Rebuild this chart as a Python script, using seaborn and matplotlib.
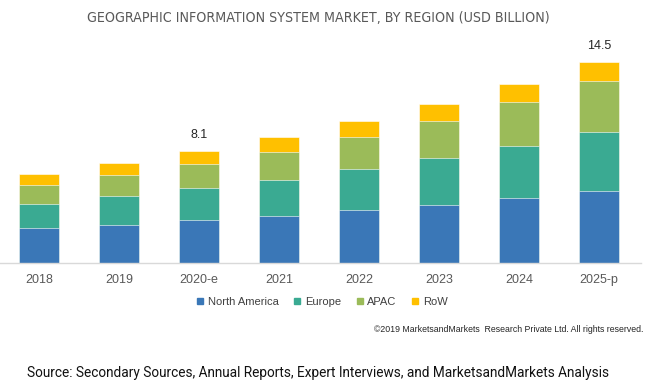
import numpy as np
import pandas as pd
import matplotlib
matplotlib.use("Agg")
import matplotlib.pyplot as plt
from matplotlib.lines import Line2D
import seaborn as sns

sns.set_style("white")
plt.rcParams['font.family'] = ['Liberation Sans', 'DejaVu Sans']

years = ['2018', '2019', '2020-e', '2021', '2022', '2023', '2024', '2025-p']
north_america = [2.51, 2.77, 3.09, 3.42, 3.81, 4.17, 4.67, 5.20]
europe = [1.78, 2.10, 2.36, 2.60, 2.96, 3.40, 3.78, 4.26]
apac = [1.37, 1.52, 1.71, 2.02, 2.36, 2.72, 3.16, 3.66]
row = [0.79, 0.85, 0.94, 1.04, 1.13, 1.21, 1.34, 1.38]
regions = ['North America', 'Europe', 'APAC', 'RoW']
colors = ['#3A77B7', '#3AAA92', '#9BBB59', '#FFC000']
labelled = {'2020-e': '8.1', '2025-p': '14.5'}

df = pd.DataFrame({'year': years, 'North America': north_america,
                   'Europe': europe, 'APAC': apac, 'RoW': row})
cum = df[regions].cumsum(axis=1)
cum['year'] = df['year']

fig = plt.figure(figsize=(6.5, 3.88), dpi=100)
ax = fig.add_axes([0.0, (388 - 263) / 388, 641 / 650, (263 - 40) / 388])

# stacked look: draw cumulative totals from the top segment down
for reg, col in zip(regions[::-1], colors[::-1]):
    sns.barplot(data=cum, x='year', y=reg, order=years, color=col,
                width=0.5, saturation=1, edgecolor='white', linewidth=0.4, ax=ax)

for i, y in enumerate(years):
    if y in labelled:
        ax.annotate(labelled[y], (i, cum.loc[i, 'RoW']), xytext=(0, 11.5),
                    textcoords='offset points', ha='center', va='center',
                    fontsize=9, color='#262626')

ax.set_xlim(-0.4875, 7.525)
ax.set_ylim(0, 223 / 13.84)
ax.set_xlabel('')
ax.set_ylabel('')
ax.set_yticks([])
for s in ['top', 'right', 'left']:
    ax.spines[s].set_visible(False)
ax.spines['bottom'].set_color('#D9D9D9')
ax.spines['bottom'].set_linewidth(1)
ax.tick_params(axis='x', length=0, pad=8, labelsize=9, labelcolor='#595959')

fig.text(0.49, 1 - 18 / 388, 'GEOGRAPHIC INFORMATION SYSTEM MARKET, BY REGION (USD BILLION)',
         ha='center', va='center', fontsize=10.2, color='#595959',
         family='DejaVu Sans', fontstretch='condensed')

handles = [Line2D([], [], marker='s', linestyle='', markersize=4.5, color=c) for c in colors]
fig.legend(handles, regions, loc='center', bbox_to_anchor=(322 / 650, 1 - 302 / 388),
           ncol=4, frameon=False, fontsize=8, handlelength=0.7, handletextpad=0.35,
           columnspacing=1.3, labelcolor='#404040')

fig.text(643 / 650, 1 - 330 / 388,
         '\u00a92019 MarketsandMarkets  Research Private Ltd. All rights reserved.',
         ha='right', va='center', fontsize=6.3, color='#262626')

fig.text(27 / 650, 1 - 373 / 388,
         'Source: Secondary Sources, Annual Reports, Expert Interviews, and MarketsandMarkets Analysis',
         ha='left', va='center', fontsize=9.85, color='#111111', family=['Roboto', 'DejaVu Sans'])

fig.savefig('out.png', dpi=100)
